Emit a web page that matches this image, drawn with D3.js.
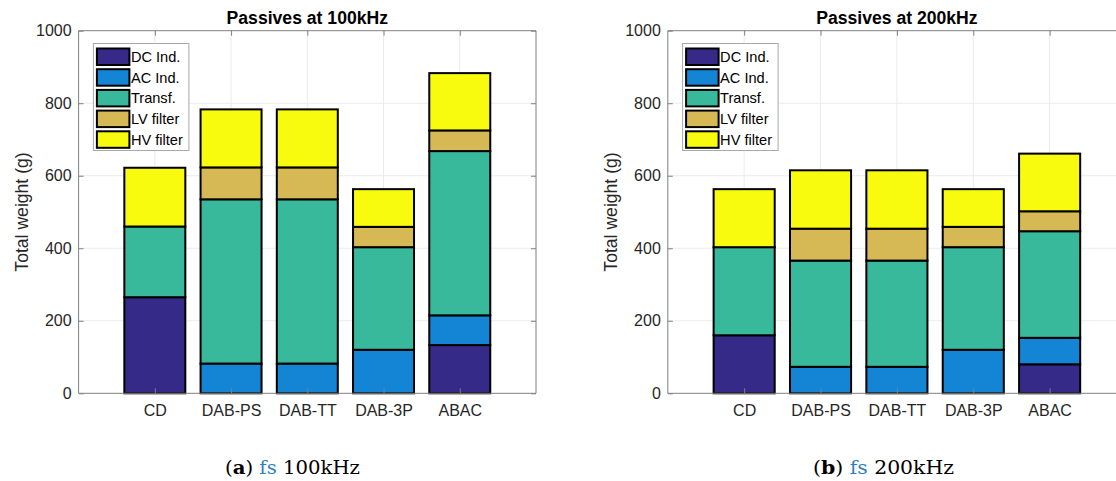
<!DOCTYPE html>
<html>
<head>
<meta charset="utf-8">
<script src="https://cdn.jsdelivr.net/npm/d3@7/dist/d3.min.js"></script>
<style>
  html, body { margin: 0; padding: 0; background: #fff; }
  svg { display: block; }
  text { font-family: "Liberation Sans", Arial, Helvetica, sans-serif; }
</style>
</head>
<body>
<svg id="chart" width="1116" height="481"></svg>
<script>
// ---- data ----
const categories = ["CD", "DAB-PS", "DAB-TT", "DAB-3P", "ABAC"];
const seriesNames = ["DC Ind.", "AC Ind.", "Transf.", "LV filter", "HV filter"];
const seriesColors = ["#352a87", "#1484d4", "#38b99c", "#d6b955", "#f9fb0e"];
const yTicks = [0, 200, 400, 600, 800, 1000];

// 100 kHz (values in g)
const dc100     = [265,   0,   0,   0, 133];
const ac100     = [  0,  82,  82, 120,  82];
const transf100 = [195, 453, 453, 283, 453];
const lv100     = [  0,  88,  88,  56,  57];
const hv100     = [162, 160, 160, 104, 158];

// 200 kHz (values in g)
const dc200     = [160,   0,   0,   0,  80];
const ac200     = [  0,  73,  73, 120,  73];
const transf200 = [243, 293, 293, 283, 294];
const lv200     = [  0,  88,  88,  56,  55];
const hv200     = [160, 161, 161, 104, 159];

const charts = [
  { title: "Passives at 100kHz", series: [dc100, ac100, transf100, lv100, hv100],
    left: 78.6, right: 536, capX: 225, capW: 135, capLetter: "a", capRest: " 100kHz" },
  { title: "Passives at 200kHz", series: [dc200, ac200, transf200, lv200, hv200],
    left: 667.8, right: 1126, capX: 813, capW: 141, capLetter: "b", capRest: " 200kHz" }
];

const plotTop = 30.7, plotBottom = 393.3;
const svg = d3.select("#chart");
const axisColor = "#808080", textColor = "#262626", gridColor = "#ebebeb";

charts.forEach((c, ci) => {
  const g = svg.append("g");
  const x = d3.scaleLinear().domain([0, categories.length + 1]).range([c.left, c.right]);
  const y = d3.scaleLinear().domain([0, 1000]).range([plotBottom, plotTop]);
  const bw = (x(1) - x(0)) * 0.8;

  // grid
  g.append("g").selectAll("line").data(yTicks.slice(1, -1)).join("line")
    .attr("x1", c.left).attr("x2", c.right)
    .attr("y1", d => y(d)).attr("y2", d => y(d))
    .attr("stroke", gridColor).attr("stroke-width", 1);
  g.append("g").selectAll("line").data(d3.range(1, categories.length + 1)).join("line")
    .attr("x1", d => x(d)).attr("x2", d => x(d))
    .attr("y1", plotTop).attr("y2", plotBottom)
    .attr("stroke", gridColor).attr("stroke-width", 1);

  // stacked bars
  const rows = categories.map((cat, i) => {
    const o = { cat, i };
    seriesNames.forEach((s, si) => { o[s] = c.series[si][i]; });
    return o;
  });
  const stacked = d3.stack().keys(seriesNames)(rows);
  stacked.forEach((layer, si) => {
    g.append("g").selectAll("rect").data(layer).join("rect")
      .attr("x", d => x(d.data.i + 1) - bw / 2)
      .attr("width", bw)
      .attr("y", d => y(d[1]))
      .attr("height", d => Math.max(0, y(d[0]) - y(d[1])))
      .attr("fill", seriesColors[si])
      .attr("stroke", "#000").attr("stroke-width", 2);
  });

  // axes
  const xAxis = d3.axisBottom(x).tickValues(d3.range(1, categories.length + 1))
    .tickFormat(d => categories[d - 1]).tickSize(-5).tickPadding(11);
  const gx = g.append("g").attr("transform", `translate(0,${plotBottom})`).call(xAxis);
  const xTop = d3.axisTop(x).tickValues(d3.range(1, categories.length + 1))
    .tickFormat("").tickSize(-5);
  const gxt = g.append("g").attr("transform", `translate(0,${plotTop})`).call(xTop);
  const yAxis = d3.axisLeft(y).tickValues(yTicks).tickFormat(d3.format("d"))
    .tickSize(-5).tickPadding(7);
  const gy = g.append("g").attr("transform", `translate(${c.left},0)`).call(yAxis);
  const yRight = d3.axisRight(y).tickValues(yTicks).tickFormat("").tickSize(-5);
  const gyr = g.append("g").attr("transform", `translate(${c.right},0)`).call(yRight);
  [gx, gxt, gy, gyr].forEach(a => {
    a.select(".domain").attr("stroke", axisColor).attr("stroke-width", 1);
    a.selectAll(".tick line").attr("stroke", axisColor);
    a.selectAll(".tick text").attr("fill", textColor).style("font-size", "16px")
      .style("font-family", '"Liberation Sans", Arial, sans-serif');
  });
  gy.select(".domain").attr("d", `M0,${plotBottom}V${plotTop}`);
  gyr.select(".domain").attr("d", `M0,${plotBottom}V${plotTop}`);
  gx.select(".domain").attr("d", `M${c.left},0H${c.right}`);
  gxt.select(".domain").attr("d", `M${c.left},0H${c.right}`);

  // title
  g.append("text").attr("x", (c.left + c.right) / 2).attr("y", 24)
    .attr("text-anchor", "middle").attr("fill", "#000")
    .style("font-size", "17.6px").style("font-weight", "bold").text(c.title);

  // y label
  g.append("text")
    .attr("transform", `translate(${c.left - 50.6},${(plotTop + plotBottom) / 2}) rotate(-90)`)
    .attr("text-anchor", "middle").attr("fill", textColor)
    .style("font-size", "17.6px").text("Total weight (g)");

  // legend
  const lx = c.left + 14.8, ly = 43.5;
  const lg = g.append("g").attr("transform", `translate(${lx},${ly})`);
  lg.append("rect").attr("x", 0).attr("y", 0).attr("width", 95.5).attr("height", 107)
    .attr("fill", "#fff").attr("stroke", "#a8a8a8").attr("stroke-width", 1);
  seriesNames.forEach((s, si) => {
    const ry = 5 + si * 20.7;
    lg.append("rect").attr("x", 3.5).attr("y", ry).attr("width", 32.5).attr("height", 16.5)
      .attr("fill", seriesColors[si]).attr("stroke", "#000").attr("stroke-width", 2);
    lg.append("text").attr("x", 37.5).attr("y", ry + 13.5).attr("fill", "#000")
      .style("font-size", "14.6px").text(s);
  });

  // caption
  const cap = svg.append("text").attr("x", c.capX).attr("y", 474)
    .attr("textLength", c.capW).attr("lengthAdjust", "spacingAndGlyphs")
    .style("font-family", '"DejaVu Serif", "Liberation Serif", serif')
    .style("font-size", "18px").attr("fill", "#000");
  cap.append("tspan").text("(");
  cap.append("tspan").style("font-weight", "bold").text(c.capLetter);
  cap.append("tspan").text(") ");
  cap.append("tspan").attr("fill", "#2f7fc0").text("fs");
  cap.append("tspan").text(c.capRest);
});
</script>
</body>
</html>
